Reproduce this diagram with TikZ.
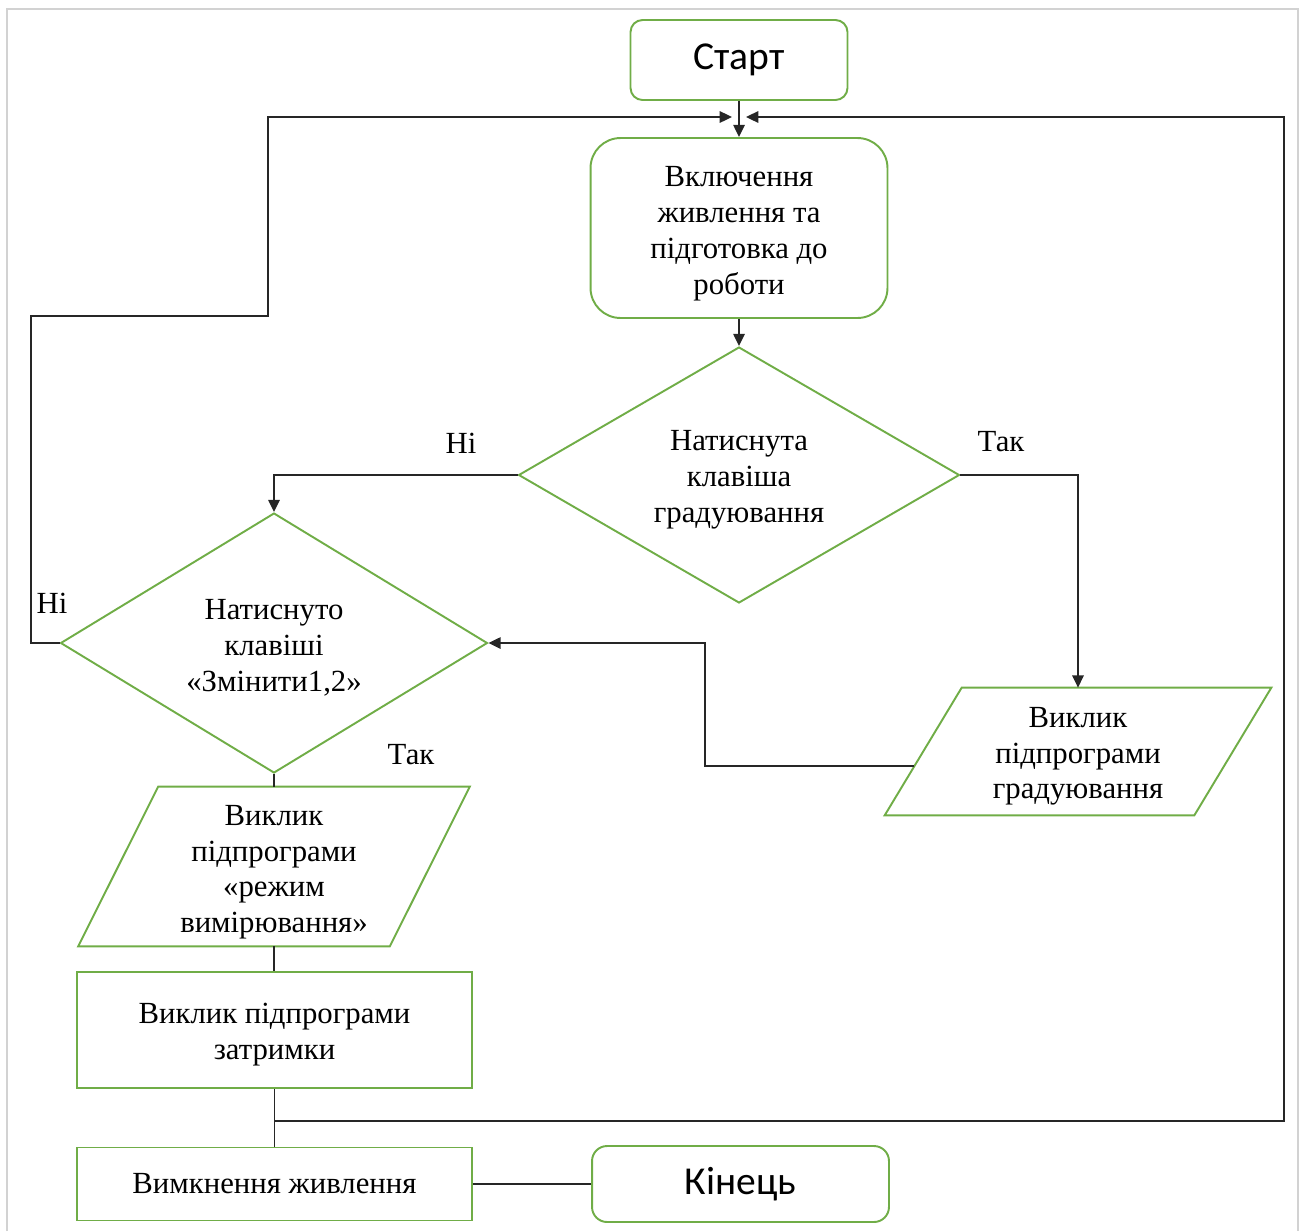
\documentclass[tikz,border=0pt]{standalone}
\usepackage{fontspec}
\setmainfont{Liberation Serif}
\newfontfamily\calibri{Carlito}
\usetikzlibrary{shapes.geometric,arrows.meta,calc}
\definecolor{flowgreen}{RGB}{112,173,71}

\begin{document}
\begin{tikzpicture}[x=0.02cm,y=-0.02cm,
    every node/.style={font=\fontsize{17.5}{20.4}\selectfont},
    term/.style={draw=flowgreen,line width=1.1pt,rounded corners=0.24cm,inner sep=0pt,font=\calibri\fontsize{22.5}{26}\selectfont},
    rproc/.style={draw=flowgreen,line width=1.1pt,rounded corners=0.6cm,align=center,inner sep=0pt},
    proc/.style={draw=flowgreen,line width=1.1pt,align=center,inner sep=0pt},
    cond/.style={diamond,draw=flowgreen,line width=1.1pt,align=center,inner sep=0pt},
    txt/.style={align=center,inner sep=0pt},
    para/.style={draw=flowgreen,line width=1.1pt},
    link/.style={line width=1.1pt,black!85},
    arr/.style={link,-{Triangle[length=7pt,width=6.5pt]}}]
                \useasboundingbox (0,0) rectangle (1304,1231);
                \draw[gray!35,line width=0.8pt] (7,1231) -- (7,9) -- (1298,9) -- (1298,1231);
                \node[term,minimum width=4.34cm,minimum height=1.6cm] (start) at (739,60) {Старт};
                \node[rproc,minimum width=5.94cm,minimum height=3.6cm] (power) at (739,228) {\rule{0pt}{18pt}Включення\\живлення та\\підготовка до\\роботи};
                \node[cond,aspect=1.72,minimum width=8.82cm,minimum height=5.12cm] (grad) at (739,475) {\rule{0pt}{17pt}Натиснута\\клавіша\\градуювання};
                \node[cond,aspect=1.64,minimum width=8.54cm,minimum height=5.2cm] (keys) at (274,643) {\rule{0pt}{17pt}Натиснуто\\клавіші\\«Змінити1,2»};
                \node[txt,minimum width=7.72cm,minimum height=2.54cm] (gradcall) at (1078,751.5) {\rule{0pt}{17pt}Виклик\\підпрограми\\градуювання};
                \draw[para] ([xshift=1.54cm]gradcall.north west) -- (gradcall.north east) -- ([xshift=-1.54cm]gradcall.south east) -- (gradcall.south west) -- cycle;
                \node[txt,minimum width=7.82cm,minimum height=3.18cm] (meas) at (274,866.5) {\rule{0pt}{18pt}Виклик\\підпрограми\\«режим\\вимірювання»};
                \draw[para] ([xshift=1.6cm]meas.north west) -- (meas.north east) -- ([xshift=-1.6cm]meas.south east) -- (meas.south west) -- cycle;
                \node[proc,minimum width=7.9cm,minimum height=2.32cm] (delay) at (274.5,1030) {\rule{0pt}{17pt}Виклик підпрограми\\затримки};
                \node[proc,minimum width=7.9cm,minimum height=1.46cm] (off) at (274.5,1184) {Вимкнення живлення};
                \node[term,rounded corners=0.3cm,minimum width=5.94cm,minimum height=1.52cm] (finish) at (740.5,1184) {Кінець};
                \node (no1) at (461,443) {Ні};
                \node (yes1) at (1001,442) {Так};
                \node (no2) at (52,603) {Ні};
                \node (yes2) at (411,755) {Так};
                \coordinate (inL) at (732,117);
                \coordinate (inR) at (746,117);
                \draw[arr] (start.south) -- (power.north);
                \draw[arr] (power.south) -- (grad.north);
                \draw[arr] (grad.west) -| (keys.north);
                \draw[arr] (grad.east) -| (gradcall.north);
                \draw[arr] ($(gradcall.south west)!0.386!([xshift=1.54cm]gradcall.north west)$) -| (705,643) -- (keys.east);
                \draw[arr] (keys.west) -- ++(-29,0) |- (268,316) |- (inL);
                \draw[link] (keys.south) -- (meas.north);
                \draw[link] (meas.south) -- (meas.south |- delay.north);
                \draw[link] (delay.south) -- (off.north);
                \draw[arr] (delay.south |- 0,1121) -| (1284,117) -- (inR);
                \draw[link] (off.east) -- (finish.west);
            \end{tikzpicture}
\end{document}
